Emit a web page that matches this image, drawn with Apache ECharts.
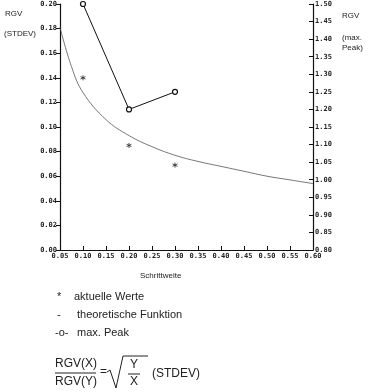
<!DOCTYPE html>
<html><head><meta charset="utf-8">
<script src="https://cdn.jsdelivr.net/npm/echarts@6/dist/echarts.min.js"></script>
<style>html,body{margin:0;padding:0;background:#fff}#c{width:369px;height:392px}</style>
</head><body><div id="c"></div>
<script>
// Data
const theoX = [0.05,0.075,0.10,0.15,0.20,0.25,0.30,0.35,0.40,0.45,0.50,0.55,0.60];
const theoY = [0.181,0.149,0.128,0.106,0.093,0.084,0.077,0.072,0.068,0.064,0.060,0.057,0.054];
const actualX = [0.10,0.20,0.30];
const actualY = [0.140,0.085,0.069];
const peakX = [0.10,0.20,0.30];
const peakY = [1.50,1.20,1.25];

const zip = (a,b)=>a.map((v,i)=>[v,b[i]]);
const tickFont = {fontFamily:'DejaVu Sans Mono',fontWeight:'bold',fontSize:7,color:'#222'};
const ax = {lineStyle:{color:'#111',width:1.2}};
const chart = echarts.init(document.getElementById('c'));
chart.setOption({
  animation:false,
  backgroundColor:'#fff',
  grid:{left:60,right:56,top:4,bottom:142},
  xAxis:{type:'value',min:0.05,max:0.60,interval:0.05,
    axisLine:ax,axisTick:{length:4,inside:true,lineStyle:{color:'#111'}},
    splitLine:{show:false},
    axisLabel:Object.assign({margin:3,formatter:v=>v.toFixed(2)},tickFont)},
  yAxis:[
    {type:'value',min:0,max:0.20,interval:0.02,
     axisLine:Object.assign({show:true},ax),axisTick:{length:4,lineStyle:{color:'#111'}},
     splitLine:{show:false},
     axisLabel:Object.assign({margin:3,formatter:v=>v.toFixed(2)},tickFont)},
    {type:'value',min:0.8,max:1.5,interval:0.05,position:'right',
     axisLine:Object.assign({show:true},ax),axisTick:{length:4,inside:true,lineStyle:{color:'#111'}},
     splitLine:{show:false},
     axisLabel:Object.assign({margin:2,formatter:v=>v.toFixed(2)},tickFont)}
  ],
  series:[
    {type:'line',data:zip(theoX,theoY),showSymbol:false,smooth:0.4,
     lineStyle:{color:'#555',width:0.8}},
    {type:'scatter',data:zip(actualX,actualY),symbol:'path://M5,0L5,10M0,2.5L10,7.5M0,7.5L10,2.5',symbolSize:5,
     itemStyle:{color:'#222',borderColor:'#222',borderWidth:1}},
    {type:'line',yAxisIndex:1,data:zip(peakX,peakY),symbol:'circle',symbolSize:5,showSymbol:true,
     lineStyle:{color:'#111',width:1},itemStyle:{color:'#fff',borderColor:'#111',borderWidth:1.2}}
  ],
  graphic:[
    {type:'text',left:5,top:10,style:{text:'RGV',font:'8px "Liberation Sans"',fill:'#222'}},
    {type:'text',left:4,top:30,style:{text:'(STDEV)',font:'8px "Liberation Sans"',fill:'#222'}},
    {type:'text',left:342,top:12,style:{text:'RGV',font:'8px "Liberation Sans"',fill:'#222'}},
    {type:'text',left:342,top:33,style:{text:'(max.\nPeak)',font:'8px "Liberation Sans"',lineHeight:10,fill:'#222'}},
    {type:'text',left:140,top:272,style:{text:'Schrittweite',font:'8px "Liberation Sans"',fill:'#222'}},
    {type:'text',left:57,top:291,style:{text:'*',font:'11px "Liberation Sans"',fill:'#222'}},
    {type:'text',left:74,top:291,style:{text:'aktuelle Werte',font:'11px "Liberation Sans"',fill:'#222'}},
    {type:'text',left:57,top:309,style:{text:'-',font:'11px "Liberation Sans"',fill:'#222'}},
    {type:'text',left:77,top:309,style:{text:'theoretische Funktion',font:'11px "Liberation Sans"',fill:'#222'}},
    {type:'text',left:55,top:327,style:{text:'-o-',font:'11px "Liberation Sans"',fill:'#222'}},
    {type:'text',left:77,top:327,style:{text:'max. Peak',font:'11px "Liberation Sans"',fill:'#222'}},
    {type:'text',left:55,top:358,style:{text:'RGV(X)',font:'12px "Liberation Sans"',fill:'#222'}},
    {type:'line',shape:{x1:55,y1:373,x2:96,y2:373},style:{stroke:'#222',lineWidth:1}},
    {type:'text',left:55,top:376,style:{text:'RGV(Y)',font:'12px "Liberation Sans"',fill:'#222'}},
    {type:'text',left:100,top:366,style:{text:'=',font:'12px "Liberation Sans"',fill:'#222'}},
    {type:'polyline',shape:{points:[[107,372],[110,370],[116,388],[123,356],[148,356]]},style:{stroke:'#222',lineWidth:1,fill:null}},
    {type:'text',left:130,top:359,style:{text:'Y',font:'12px "Liberation Sans"',fill:'#222'}},
    {type:'line',shape:{x1:128,y1:374,x2:140,y2:374},style:{stroke:'#222',lineWidth:1}},
    {type:'text',left:130,top:376,style:{text:'X',font:'12px "Liberation Sans"',fill:'#222'}},
    {type:'text',left:152,top:368,style:{text:'(STDEV)',font:'12px "Liberation Sans"',fill:'#222'}}
  ]
});
</script></body></html>
